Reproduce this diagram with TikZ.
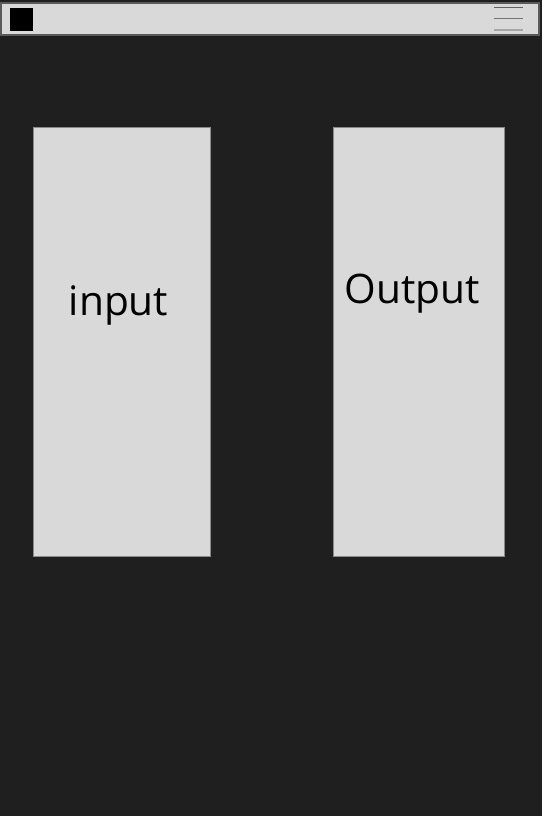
\documentclass[tikz,border=0pt]{standalone}
\usepackage{fontspec}
\setmainfont{Open Sans}
\definecolor{bg}{HTML}{1F1F1F}
\definecolor{panel}{HTML}{D9D9D9}
\definecolor{edge}{HTML}{8A8A8A}
\definecolor{barline}{HTML}{5A5A5A}
\tikzset{
  panelbox/.style={draw=edge, line width=0.7pt, fill=panel},
  label/.style={font=\fontsize{30.5}{36}\selectfont, text=black, inner sep=0pt, anchor=base},
  menuline/.style={line width=1.1pt}
}
\begin{document}
\begin{tikzpicture}[x=0.75pt, y=-0.75pt]
  \fill[bg] (0,0) rectangle (542,816);
  \useasboundingbox (0,0) rectangle (542,816);
  % top bar
  \draw[panelbox, draw=barline, line width=1pt] (1,3) rectangle (539,35);
  \fill[black] (10,8) rectangle (32.7,30.7);
  \draw[menuline, draw=black!62] (493.5,7.5) -- (523,7.5);
  \draw[menuline, draw=black!55] (493.5,18.5) -- (523,18.5);
  \draw[menuline, draw=black!35] (493.5,30) -- (523,30);
  % panels
  \node[panelbox, minimum width=177pt*0.75, minimum height=429pt*0.75, inner sep=0pt] (inbox) at (121.5,341.5) {};
  \node[panelbox, minimum width=171pt*0.75, minimum height=429pt*0.75, inner sep=0pt] (outbox) at (418.7,341.5) {};
  \node[label] (intext) at (118.5,315.5) {input};
  \node[label] (outtext) at (412.5,303.5) {Output};
\end{tikzpicture}
\end{document}
